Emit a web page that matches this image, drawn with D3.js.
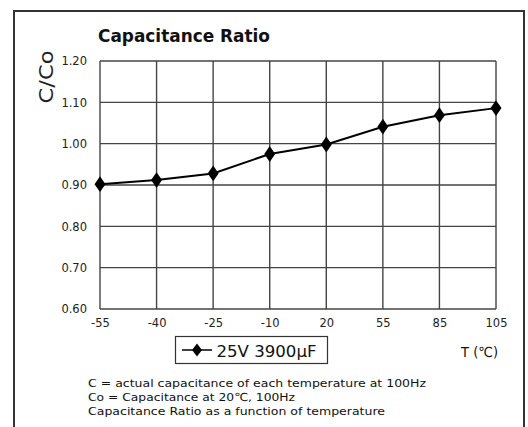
<!DOCTYPE html>
<html><head><meta charset="utf-8">
<script src="https://cdn.jsdelivr.net/npm/d3@7"></script>
<style>body{margin:0;background:#fff}svg{display:block}</style>
</head><body>
<script>
const categories = ["-55","-40","-25","-10","20","55","85","105"];
const values = [0.902, 0.912, 0.928, 0.975, 0.998, 1.041, 1.069, 1.086];
const yTicks = [0.60, 0.70, 0.80, 0.90, 1.00, 1.10, 1.20];
const seriesName = "25V 3900\u03bcF";
const title = "Capacitance Ratio";
const yLabel = "C/Co";
const xLabel = "T (\u2103)";
const notes = ["C = actual capacitance of each temperature at 100Hz",
               "Co = Capacitance at 20\u2103, 100Hz",
               "Capacitance Ratio as a function of temperature"];

const W = 528, H = 427;
const font = "'DejaVu Sans', sans-serif";
const svg = d3.select("body").append("svg").attr("width", W).attr("height", H);
svg.append("rect").attr("width", W).attr("height", H).attr("fill", "#fff");
// outer frame
svg.append("path").attr("d", "M14,440 V11 H524 V440").attr("fill", "none")
  .attr("stroke", "#333").attr("stroke-width", 2);

const m = {l:100, r:496, t:61, b:309};
const x = d3.scalePoint().domain(categories).range([m.l, m.r]);
const y = d3.scaleLinear().domain([0.6, 1.2]).range([m.b, m.t]);

const g = svg.append("g");
// grid
g.selectAll(".vg").data(categories).join("line")
  .attr("x1", d => x(d)).attr("x2", d => x(d)).attr("y1", m.t).attr("y2", m.b)
  .attr("stroke", "#444").attr("stroke-width", 1.4);
g.selectAll(".hg").data(yTicks).join("line")
  .attr("x1", m.l).attr("x2", m.r).attr("y1", d => y(d)).attr("y2", d => y(d))
  .attr("stroke", "#444").attr("stroke-width", 1.4);

// axes labels via d3 axes
const ya = svg.append("g").attr("transform", `translate(${m.l},0)`)
  .call(d3.axisLeft(y).tickValues(yTicks).tickFormat(d3.format(".2f")).tickSize(0).tickPadding(13));
ya.select(".domain").remove();
ya.selectAll("text").attr("font-family", font).attr("font-size", 11.5).attr("fill", "#222");

const xa = svg.append("g").attr("transform", `translate(0,${m.b})`)
  .call(d3.axisBottom(x).tickSize(0).tickPadding(10));
xa.select(".domain").remove();
xa.selectAll("text").attr("font-family", font).attr("font-size", 11.5).attr("fill", "#222");

// line
const line = d3.line().x((d,i) => x(categories[i])).y(d => y(d));
svg.append("path").datum(values).attr("d", line).attr("fill", "none")
  .attr("stroke", "#000").attr("stroke-width", 2);
const diamond = d3.symbol().type(d3.symbolDiamond).size(72);
svg.selectAll(".pt").data(values).join("path")
  .attr("d", diamond).attr("fill", "#000")
  .attr("transform", (d,i) => `translate(${x(categories[i])},${y(d)}) scale(1.2,1)`);

// title
svg.append("text").attr("x", 98).attr("y", 42).text(title)
  .attr("font-family", font).attr("font-weight", "bold").attr("font-size", 17)
  .attr("textLength", 172).attr("lengthAdjust", "spacingAndGlyphs").attr("fill", "#111");
// y label
svg.append("text").attr("transform", "translate(53,77) rotate(-90)").attr("text-anchor", "middle")
  .text(yLabel).attr("font-family", font).attr("font-size", 19)
  .attr("textLength", 53).attr("lengthAdjust", "spacingAndGlyphs").attr("fill", "#222");

// legend
svg.append("rect").attr("x", 175.5).attr("y", 336.5).attr("width", 152).attr("height", 27)
  .attr("fill", "none").attr("stroke", "#333").attr("stroke-width", 1.2);
svg.append("line").attr("x1", 182).attr("x2", 212).attr("y1", 350).attr("y2", 350)
  .attr("stroke", "#000").attr("stroke-width", 1.5);
svg.append("path").attr("d", d3.symbol().type(d3.symbolDiamond).size(50)())
  .attr("transform", "translate(197,350) scale(1.3,1)").attr("fill", "#000");
svg.append("text").attr("x", 216.5).attr("y", 357).text(seriesName)
  .attr("font-family", font).attr("font-size", 16).attr("fill", "#111")
  .attr("textLength", 100).attr("lengthAdjust", "spacingAndGlyphs");

svg.append("text").attr("x", 461).attr("y", 357).text(xLabel)
  .attr("font-family", font).attr("font-size", 14).attr("fill", "#111")
  .attr("textLength", 37).attr("lengthAdjust", "spacingAndGlyphs");

// notes
const noteLens = [338, 207, 297];
svg.selectAll(".note").data(notes).join("text")
  .attr("x", 88).attr("y", (d,i) => 386.5 + i*14.3).text(d => d)
  .attr("font-family", font).attr("font-size", 11).attr("fill", "#111")
  .attr("textLength", (d,i) => noteLens[i]).attr("lengthAdjust", "spacingAndGlyphs");
</script>
</body></html>
